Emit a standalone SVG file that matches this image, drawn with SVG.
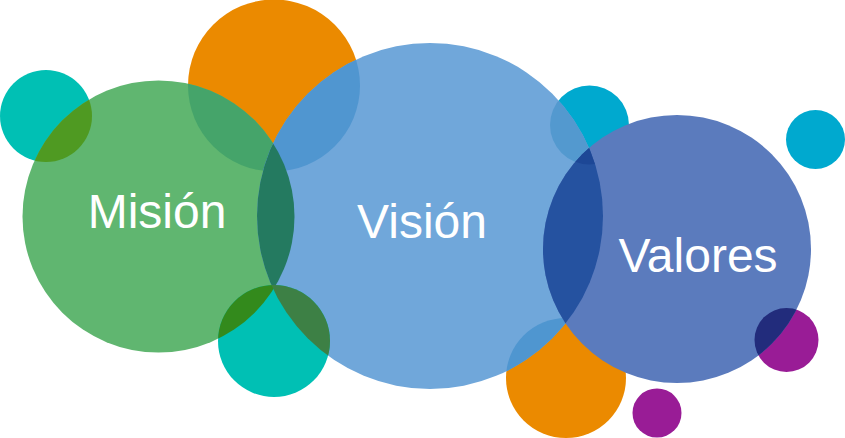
<svg xmlns="http://www.w3.org/2000/svg" width="845" height="438" viewBox="0 0 845 438">
<style>
.lbl{font-family:"Liberation Sans",Arial,sans-serif;font-size:48px;fill:#ffffff;text-anchor:middle}
</style>
<defs>
<clipPath id="cGreen"><circle cx="158.5" cy="216.5" r="136"/></clipPath>
<clipPath id="cBlue"><circle cx="430" cy="216" r="173"/></clipPath>
<clipPath id="cVal"><circle cx="677" cy="249" r="134"/></clipPath>
<clipPath id="cTealSm"><circle cx="589.5" cy="125" r="39.5"/></clipPath>
</defs>
<rect width="845" height="438" fill="#ffffff"/>
<g id="bubbles">
<circle cx="46" cy="116" r="46" fill="#00c0b4"/>
<circle cx="274" cy="85.5" r="86" fill="#eb8a00"/>
<circle cx="589.5" cy="125" r="39.5" fill="#00a9cf"/>
<circle cx="815.5" cy="139.5" r="29.5" fill="#00a9cf"/>
<circle cx="566" cy="378" r="60" fill="#eb8a00"/>
<circle cx="657" cy="413" r="24.5" fill="#991c96"/>
<circle cx="786.5" cy="340" r="32" fill="#991c96"/>
</g>
<g id="node-mision">
<circle cx="158.5" cy="216.5" r="136" fill="#60b670"/>
<g clip-path="url(#cGreen)">
<circle cx="46" cy="116" r="46" fill="#4f9a22"/>
<circle cx="274" cy="85.5" r="86" fill="#45a46a"/>
</g>
</g>
<g id="node-vision">
<circle cx="430" cy="216" r="173" fill="#70a7da"/>
<g clip-path="url(#cBlue)">
<circle cx="274" cy="85.5" r="86" fill="#5096d0"/>
<circle cx="589.5" cy="125" r="39.5" fill="#5399cf"/>
<circle cx="566" cy="378" r="60" fill="#4f96d0"/>
<circle cx="158.5" cy="216.5" r="136" fill="#247a60"/>
</g>
</g>
<g id="bubble-teal-bottom">
<circle cx="274" cy="341" r="56" fill="#00c0b4"/>
<circle cx="274" cy="341" r="56" fill="#338a1c" clip-path="url(#cGreen)"/>
<circle cx="274" cy="341" r="56" fill="#3d8045" clip-path="url(#cBlue)"/>
</g>
<g id="node-valores">
<circle cx="677" cy="249" r="134" fill="#5b7bbd"/>
<g clip-path="url(#cVal)">
<circle cx="430" cy="216" r="173" fill="#2552a0"/>
<g clip-path="url(#cBlue)">
<circle cx="589.5" cy="125" r="39.5" fill="#1d4796"/>
</g>
<circle cx="786.5" cy="340" r="32" fill="#222c7c"/>
</g>
</g>
<g id="labels">
<text class="lbl" x="157" y="228">Misión</text>
<text class="lbl" x="422" y="238">Visión</text>
<text class="lbl" x="698" y="272">Valores</text>
</g>
<g id="connectors"></g>
</svg>
